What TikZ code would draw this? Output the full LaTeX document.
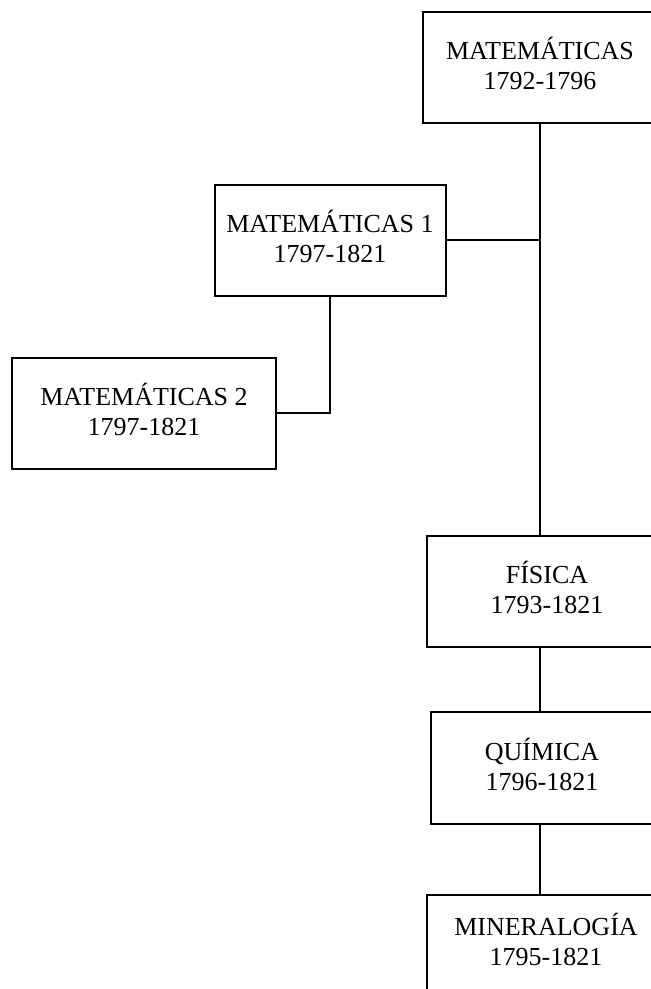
\documentclass[tikz,border=0pt]{standalone}
\usepackage{fontspec}
\setmainfont{Liberation Serif}
\usepackage{tikz}
\usetikzlibrary{positioning,calc}
\tikzset{
  x=1pt,y=-1pt,
  % cajas
  caja/.style={draw=black,line width=2pt,fill=white,inner sep=0pt,align=center,
               minimum height=111pt,text depth=8pt,font=\fontsize{26}{30}\selectfont},
  % lineas
  ln/.style={draw=black,line width=2pt},
}
\begin{document}
\begin{tikzpicture}
  \useasboundingbox[fill=white] (0,0) rectangle (651,989);
  \node[caja,minimum width=234pt] (mat) at (540,67.5) {MATEMÁTICAS\\1792-1796};
  \node[caja,minimum width=231pt] (mat1) at (330,240) {MATEMÁTICAS 1\\1797-1821};
  \node[caja,minimum width=264pt] (mat2) at (144,413) {MATEMÁTICAS 2\\1797-1821};
  \node[caja,minimum width=240pt] (fis) at (547,591.5) {FÍSICA\\1793-1821};
  \node[caja,minimum width=222pt,minimum height=112pt] (qui) at (542,768) {QUÍMICA\\1796-1821};
  \node[caja,minimum width=238pt,minimum height=97pt] (min) at (546,943.5) {MINERALOGÍA\\1795-1821};
  \draw[ln] (mat.south) -- (mat.south |- fis.north);
  \draw[ln] (mat1.east) -- (mat1.east -| mat.south);
  \draw[ln] (mat1.south) |- (mat2.east);
  \draw[ln] (fis.south -| mat.south) -- (qui.north -| mat.south);
  \draw[ln] (qui.south -| mat.south) -- (min.north -| mat.south);
\end{tikzpicture}
\end{document}
